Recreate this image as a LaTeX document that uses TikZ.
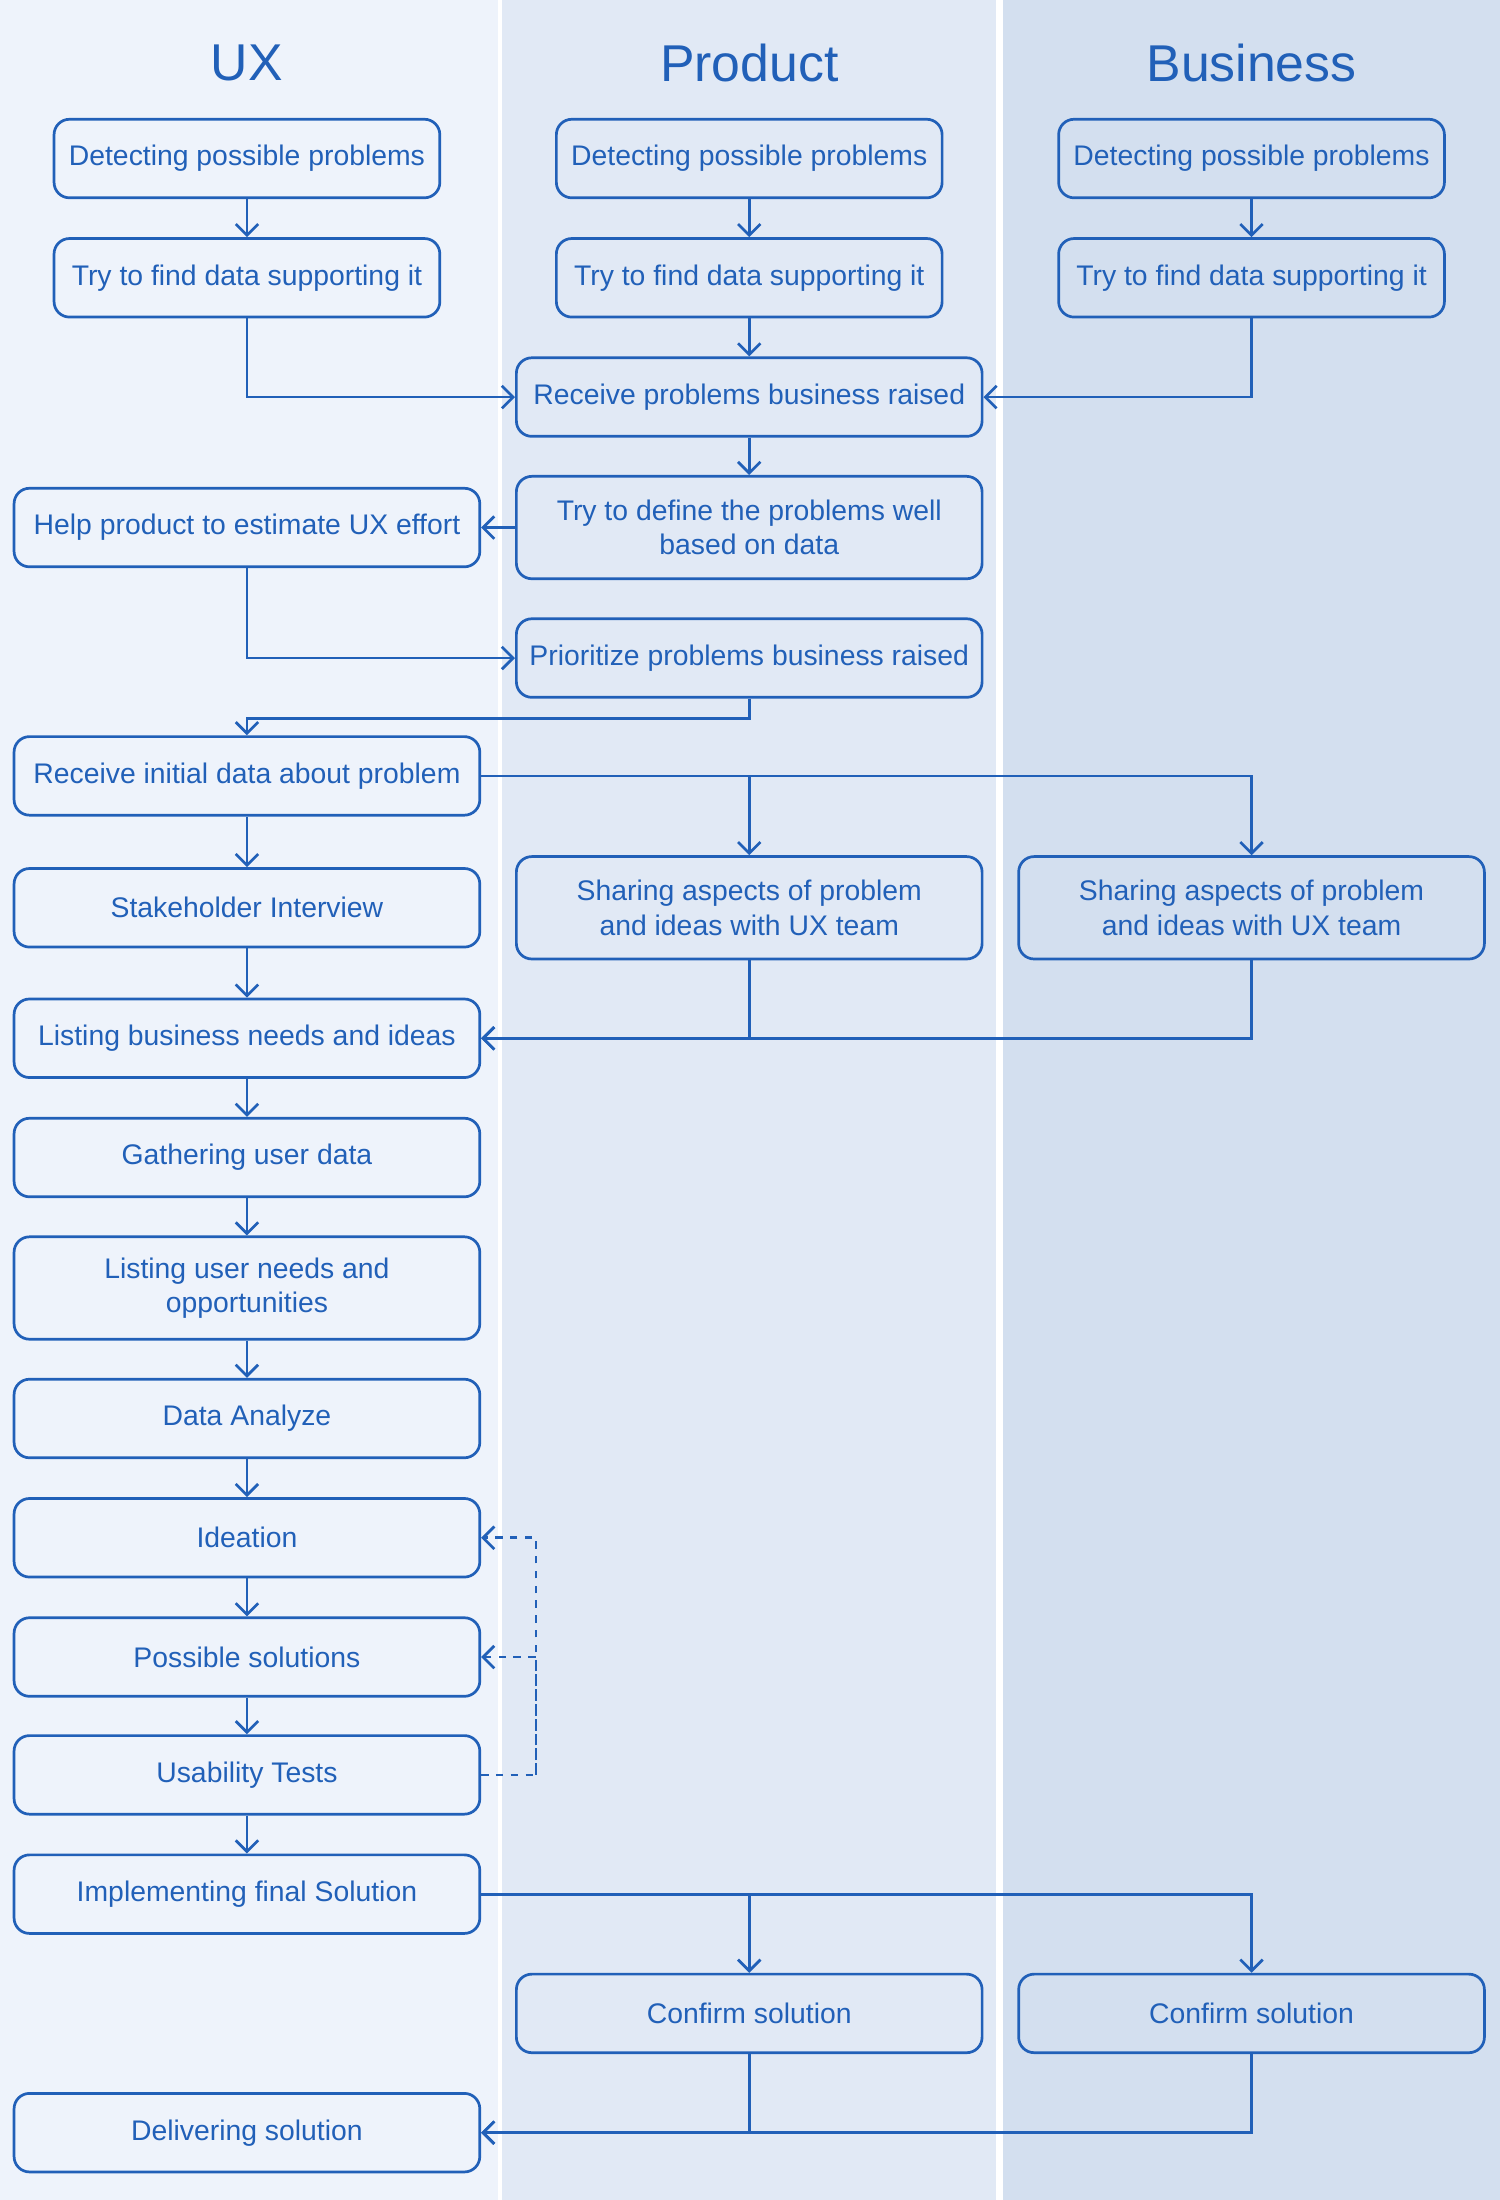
\documentclass[tikz,border=0pt]{standalone}
\usepackage{fontspec}
\setmainfont{Liberation Sans}
\usetikzlibrary{arrows.meta}
\definecolor{ink}{HTML}{2160B8}
\definecolor{laneA}{HTML}{EEF3FB}
\definecolor{laneB}{HTML}{E1E9F5}
\definecolor{laneC}{HTML}{D3DFEF}
\begin{document}
\begin{tikzpicture}[x=0.02cm,y=-0.02cm,>={Straight Barb[length=1.6mm,width=3.2mm]},
  box/.style={rectangle,rounded corners=0.22cm,draw=ink,line width=1.1pt,text=ink,
    minimum width=6.64cm,minimum height=1.12cm,align=center,font=\fontsize{11.5}{14}\selectfont},
  small/.style={box,minimum width=5.5cm},
  tall/.style={box,minimum height=1.46cm},
  head/.style={text=ink,font=\fontsize{21}{24}\selectfont},
  link/.style={draw=ink,line width=1.1pt,->}]
% lanes
\fill[laneA] (0,0) rectangle (355,1568);
\fill[laneB] (358,0) rectangle (710,1568);
\fill[laneC] (715,0) rectangle (1069,1568);
\useasboundingbox (0,0) rectangle (1069,1568);
\node at (176,45) (hU) [head] {UX};
\node at (534,45) (hP) [head] {Product};
\node at (892,45) (hB) [head] {Business};
% first rows
\node at (176,113) (uDet) [small] {Detecting possible problems};
\node at (534,113) (pDet) [small] {Detecting possible problems};
\node at (892,113) (bDet) [small] {Detecting possible problems};
\node at (176,198) (uTry) [small] {Try to find data supporting it};
\node at (534,198) (pTry) [small] {Try to find data supporting it};
\node at (892,198) (bTry) [small] {Try to find data supporting it};
\node at (534,283) (pRecv) [box] {Receive problems business raised};
\node at (534,376) (pDef) [tall] {Try to define the problems well\\based on data};
\node at (176,376) (uHelp) [box] {Help product to estimate UX effort};
\node at (534,469) (pPrio) [box] {Prioritize problems business raised};
\node at (176,553) (uInit) [box] {Receive initial data about problem};
\node at (176,647) (uStake) [box] {Stakeholder Interview};
\node at (534,647) (pShare) [tall] {Sharing aspects of problem\\and ideas with UX team};
\node at (892,647) (bShare) [tall] {Sharing aspects of problem\\and ideas with UX team};
\node at (176,740) (uBiz) [box] {Listing business needs and ideas};
\node at (176,825) (uGath) [box] {Gathering user data};
\node at (176,918) (uUser) [tall] {Listing user needs and\\opportunities};
\node at (176,1011) (uAna) [box] {Data Analyze};
\node at (176,1096) (uIdea) [box] {Ideation};
\node at (176,1181) (uSol) [box] {Possible solutions};
\node at (176,1265) (uTest) [box] {Usability Tests};
\node at (176,1350) (uImpl) [box] {Implementing final Solution};
\node at (534,1435) (pConf) [box] {Confirm solution};
\node at (892,1435) (bConf) [box] {Confirm solution};
\node at (176,1520) (uDel) [box] {Delivering solution};
\coordinate (loop) at (382,1265);
% connectors
\draw [link] (uDet) -- (uTry);
\draw [link] (pDet) -- (pTry);
\draw [link] (bDet) -- (bTry);
\draw [link] (pTry) -- (pRecv);
\draw [link] (uTry.south) |- (pRecv.west);
\draw [link] (bTry.south) |- (pRecv.east);
\draw [link] (pRecv) -- (pDef);
\draw [link] (pDef) -- (uHelp);
\draw [link] (uHelp.south) |- (pPrio.west);
\draw [link] (pPrio.south) -- ++(0,14) -| (uInit.north);
\draw [link] (uInit.east) -| (bShare.north);
\draw [link] (uInit.east) -| (pShare.north);
\draw [link] (pShare.south) |- (uBiz.east);
\draw [link] (bShare.south) |- (uBiz.east);
\draw [link] (uInit) -- (uStake);
\draw [link] (uStake) -- (uBiz);
\draw [link] (uBiz) -- (uGath);
\draw [link] (uGath) -- (uUser);
\draw [link] (uUser) -- (uAna);
\draw [link] (uAna) -- (uIdea);
\draw [link] (uIdea) -- (uSol);
\draw [link] (uSol) -- (uTest);
\draw [link] (uTest) -- (uImpl);
\draw [link,dashed] (uTest.east) -- (loop) |- (uIdea.east);
\draw [link,dashed] (loop) |- (uSol.east);
\draw [link] (uImpl.east) -| (bConf.north);
\draw [link] (uImpl.east) -| (pConf.north);
\draw [link] (pConf.south) |- (uDel.east);
\draw [link] (bConf.south) |- (uDel.east);
\end{tikzpicture}
\end{document}
